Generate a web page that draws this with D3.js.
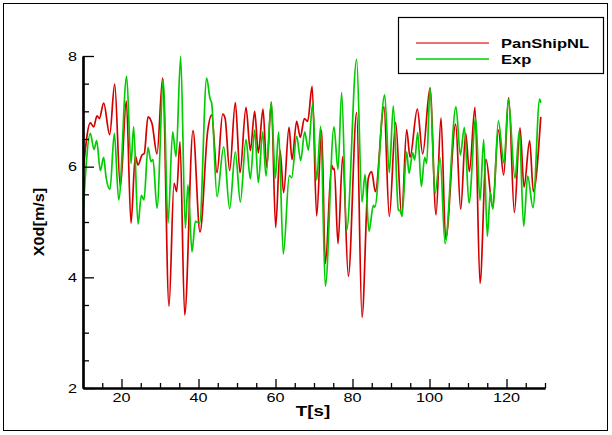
<!DOCTYPE html>
<html>
<head>
<meta charset="utf-8">
<script src="https://cdn.jsdelivr.net/npm/d3@7"></script>
<style>
  html, body { margin: 0; padding: 0; background: #fff; }
  svg { display: block; }
  text { font-family: "Liberation Sans", Arial, Helvetica, sans-serif; fill: #000; }
</style>
</head>
<body>
<svg id="chart" width="612" height="435"></svg>
<script>
// Series names and colours
const seriesNames = ["PanShipNL", "Exp"];
const seriesColors = ["#d40000", "#00cc00"];

// PanShipNL simulation: time [s] and surge velocity X0d [m/s]
const panshipT = [10, 11.9, 12.77, 13.64, 14.24, 15.37, 16.93, 18.23, 19.7, 21.25, 22.47, 23.59, 24.29, 25.32, 25.92, 26.88, 27.92, 29.22, 30.69, 32.34, 33.64, 34.33, 35.19, 36.41, 38.57, 40.39, 42.38, 43.42, 44.81, 46.28, 46.9, 48.09, 49.57, 50.78, 52.34, 53.46, 54.59, 55.54, 56.75, 57.71, 58.92, 60.04, 61.17, 62.12, 63.51, 64.29, 65.5, 66.45, 67.49, 68.36, 69.52, 70.69, 71.99, 72.94, 74.59, 75.02, 75.28, 76.23, 77.45, 78.92, 81.08, 82.47, 84.11, 84.98, 85.93, 88.18, 89.56, 91.21, 92.77, 94.07, 94.94, 96.84, 98.23, 100.13, 101.7, 102.99, 104.2, 106.8, 108.1, 109.4, 110.35, 111.82, 113.12, 114.68, 116.41, 117.88, 119.27, 120.57, 122.04, 123.51, 124.55, 126.02, 126.97, 128.9];
const panshipV = [5.9, 6.79, 6.72, 6.92, 6.87, 7.15, 6.58, 7.49, 5.63, 7.19, 4.98, 6.19, 6.03, 6.21, 6.24, 6.9, 6.78, 6.23, 7.6, 3.48, 5.7, 5.55, 6.45, 3.32, 6.65, 4.82, 6.64, 6.93, 5.89, 6.95, 6.88, 5.93, 7.16, 5.89, 7.07, 6.29, 7.0, 6.25, 7.04, 5.99, 7.16, 4.9, 6.3, 5.53, 6.71, 6.13, 6.82, 6.53, 6.87, 6.82, 7.45, 5.11, 6.66, 4.25, 6.03, 5.95, 5.97, 4.61, 6.18, 4.02, 6.98, 3.28, 5.79, 5.91, 5.55, 7.08, 5.1, 6.8, 5.11, 6.67, 6.17, 7.04, 6.23, 7.42, 5.13, 6.88, 4.69, 6.77, 5.23, 6.6, 5.91, 7.07, 3.89, 6.13, 5.26, 6.66, 5.85, 7.25, 5.17, 6.7, 5.63, 6.47, 5.55, 6.9];

// Experiment: time [s] and surge velocity X0d [m/s]
const expT = [10, 11.9, 12.86, 13.55, 14.5, 15.37, 15.97, 17.01, 18.14, 19.27, 21.34, 22.47, 23.16, 24.29, 25.15, 25.84, 26.88, 27.66, 28.18, 29.22, 30.87, 32.08, 33.29, 34.16, 35.37, 36.58, 37.27, 38.31, 39.18, 40.3, 42.12, 42.99, 43.42, 44.81, 46.54, 48.09, 49.57, 50.87, 52.34, 53.46, 54.59, 55.54, 56.67, 57.53, 58.92, 59.95, 60.82, 62.03, 63.59, 64.2, 65.5, 66.54, 67.58, 68.53, 69.65, 70.69, 71.73, 72.94, 75.19, 76.23, 77.18, 78.48, 81.08, 82.47, 83.25, 84.29, 85.41, 85.8, 88.36, 89.56, 90.6, 91.9, 92.51, 92.85, 94.07, 94.68, 95.63, 96.15, 96.93, 97.88, 98.74, 99.27, 100.13, 101.44, 102.74, 104.04, 106.88, 108.01, 109.05, 110.26, 112.0, 113.12, 114.07, 115.02, 115.8, 116.49, 117.88, 119.35, 120.48, 122.21, 123.33, 124.46, 125.5, 126.88, 128.61, 128.9];
const expV = [5.15, 6.6, 6.31, 6.47, 5.93, 6.17, 5.82, 5.59, 6.6, 5.4, 7.63, 6.06, 6.72, 4.96, 5.48, 5.4, 6.35, 6.09, 6.13, 5.25, 7.57, 4.98, 6.63, 6.18, 7.99, 4.89, 5.67, 4.46, 5.01, 4.98, 7.6, 7.23, 7.15, 5.46, 6.36, 5.24, 6.27, 5.36, 6.49, 5.78, 6.66, 5.71, 6.63, 5.83, 7.17, 5.79, 6.63, 4.42, 5.84, 5.8, 6.55, 6.11, 6.63, 6.3, 7.14, 5.76, 6.73, 3.84, 6.72, 5.95, 7.34, 4.85, 7.94, 5.36, 5.86, 4.83, 5.3, 5.27, 7.3, 5.89, 7.1, 5.22, 5.19, 5.1, 6.27, 5.88, 6.25, 6.12, 6.62, 5.64, 6.17, 6.06, 7.43, 5.52, 6.17, 4.61, 7.08, 6.21, 6.71, 5.34, 6.88, 5.39, 6.49, 4.74, 5.53, 5.23, 6.83, 6.06, 7.22, 5.79, 6.65, 4.92, 5.83, 5.26, 7.22, 7.15];

// Axis ticks
const xMajorTicks = [20, 40, 60, 80, 100, 120];
const xMinorTicks = d3.range(15, 131, 5).filter(v => v % 20 !== 0);
const yMajorTicks = [2, 4, 6, 8];
const yMinorTicks = d3.range(2.5, 8, 0.5).filter(v => v % 2 !== 0);
const xTitle = "T[s]";
const yTitle = "X0d[m/s]";

const svg = d3.select("#chart");
const x = d3.scaleLinear().domain([10, 130]).range([83, 545]);
const y = d3.scaleLinear().domain([2, 8]).range([388, 56]);

// Outer frame
svg.append("rect")
  .attr("x", 3.5).attr("y", 3.5).attr("width", 604).attr("height", 427)
  .attr("fill", "none").attr("stroke", "#000").attr("stroke-width", 1);

// Clip region for the curves
svg.append("clipPath").attr("id", "plotClip")
  .append("rect").attr("x", x(10)).attr("y", y(8) - 2)
  .attr("width", x(130) - x(10)).attr("height", y(2) - y(8) + 2);

const line = d3.line()
  .x(d => x(d[0]))
  .y(d => y(d[1]))
  .curve(d3.curveMonotoneX);

const seriesData = [
  d3.zip(panshipT, panshipV),
  d3.zip(expT, expV)
];

const plot = svg.append("g").attr("clip-path", "url(#plotClip)");
plot.selectAll("path.series")
  .data(seriesData)
  .join("path")
  .attr("class", "series")
  .attr("d", line)
  .attr("fill", "none")
  .attr("stroke", (d, i) => seriesColors[i])
  .attr("stroke-width", 1.7)
  .attr("stroke-linejoin", "round");

// Axes: ticks point into the plot
function styleAxis(g, w) {
  g.select(".domain").attr("stroke", "#000").attr("stroke-width", w);
  g.selectAll(".tick line").attr("stroke", "#000").attr("stroke-width", 1.3);
  g.selectAll(".tick text").remove();
}

svg.append("g").attr("transform", `translate(${x(10)},0)`)
  .call(d3.axisLeft(y).tickValues(yMinorTicks).tickSizeInner(-6).tickSizeOuter(0).tickFormat(""))
  .call(g => styleAxis(g, 2.2));
svg.append("g").attr("transform", `translate(${x(10)},0)`)
  .call(d3.axisLeft(y).tickValues(yMajorTicks).tickSizeInner(-11).tickSizeOuter(0).tickFormat(""))
  .call(g => styleAxis(g, 2.2));
svg.append("g").attr("transform", `translate(0,${y(2)})`)
  .call(d3.axisBottom(x).tickValues(xMinorTicks).tickSizeInner(-5).tickSizeOuter(0).tickFormat(""))
  .call(g => styleAxis(g, 2.2));
svg.append("g").attr("transform", `translate(0,${y(2)})`)
  .call(d3.axisBottom(x).tickValues(xMajorTicks).tickSizeInner(-9).tickSizeOuter(0).tickFormat(""))
  .call(g => styleAxis(g, 2.2));

// Tick labels
svg.append("g").selectAll("text")
  .data(yMajorTicks)
  .join("text")
  .attr("transform", d => `translate(77,${y(d) + 4.5}) scale(1.3,1)`)
  .attr("text-anchor", "end")
  .attr("font-size", 12.5)
  .text(d => d);

svg.append("g").selectAll("text")
  .data(xMajorTicks)
  .join("text")
  .attr("transform", d => `translate(${x(d)},402) scale(1.3,1)`)
  .attr("text-anchor", "middle")
  .attr("font-size", 12.5)
  .text(d => d);

// Axis titles
svg.append("text")
  .attr("transform", `translate(313,416) scale(1.25,1)`)
  .attr("text-anchor", "middle")
  .attr("font-size", 15)
  .attr("font-weight", "bold")
  .text(xTitle);

svg.append("text")
  .attr("transform", `translate(44,222) rotate(-90) scale(1.08,0.95)`)
  .attr("text-anchor", "middle")
  .attr("font-size", 15)
  .attr("font-weight", "bold")
  .text(yTitle);

// Legend
const legend = svg.append("g");
legend.append("rect")
  .attr("x", 398.5).attr("y", 17.5).attr("width", 205).attr("height", 56)
  .attr("fill", "#fff").attr("stroke", "#000").attr("stroke-width", 1.2);

const legendRows = legend.selectAll("g.row")
  .data(seriesNames)
  .join("g")
  .attr("class", "row")
  .attr("transform", (d, i) => `translate(0,${43 + i * 16})`);

legendRows.append("line")
  .attr("x1", 416).attr("x2", 489).attr("y1", 0).attr("y2", 0)
  .attr("stroke", (d, i) => seriesColors[i])
  .attr("stroke-width", (d, i) => i === 0 ? 2 : 1.3)
  .attr("stroke-opacity", (d, i) => i === 0 ? 0.55 : 1);

legendRows.append("text")
  .attr("transform", "translate(501,5) scale(1.27,1)")
  .attr("font-size", 13)
  .attr("font-weight", "bold")
  .text(d => d);
</script>
</body>
</html>
